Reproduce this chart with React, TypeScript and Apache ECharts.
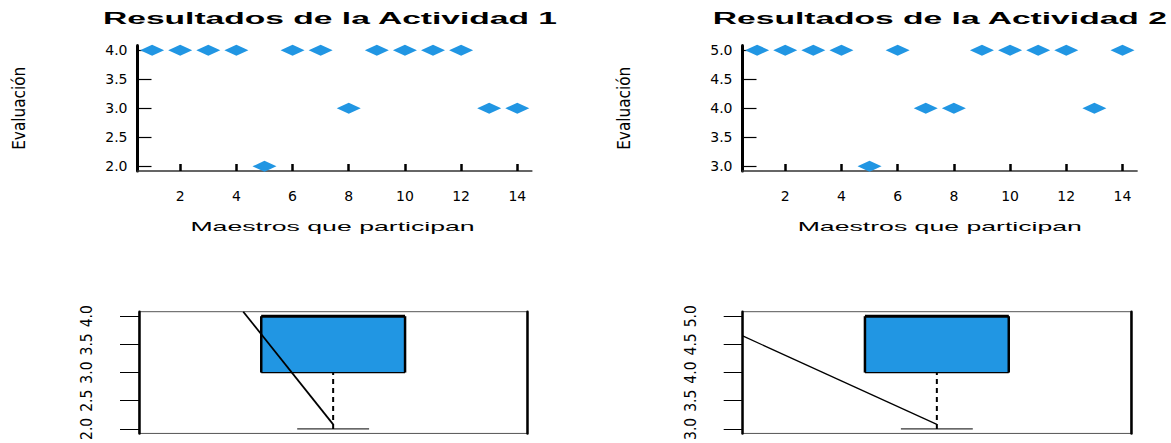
import React, { useEffect, useRef } from "react";
import * as echarts from "echarts";

// ---- data ----
const maestros = [1, 2, 3, 4, 5, 6, 7, 8, 9, 10, 11, 12, 13, 14];
const actividad1 = [4, 4, 4, 4, 2, 4, 4, 3, 4, 4, 4, 4, 3, 3];
const actividad2 = [5, 5, 5, 5, 3, 5, 4, 4, 5, 5, 5, 5, 4, 5];
const xTicks = [2, 4, 6, 8, 10, 12, 14];
const yTicks1 = [2, 2.5, 3, 3.5, 4];
const yTicks2 = [3, 3.5, 4, 4.5, 5];
// min, Q1, mediana, Q3, max
const caja1 = [2, 3, 4, 4, 4];
const caja2 = [3, 4, 5, 5, 5];
const linea1 = [[0.75, 4.08], [1, 2.08]];
const linea2 = [[0.46, 4.65], [1, 3.08]];
const titulos = ["Resultados de la Actividad 1", "Resultados de la Actividad 2"];
const xNombre = "Maestros que participan";
const yNombre = "Evaluación";

const AZUL = "#2196E3";
const NARROW = '"Liberation Sans Narrow", "DejaVu Sans Condensed", "Liberation Sans", Arial, sans-serif';

function topXAxis(gridIndex: number) {
  return {
    type: "value",
    gridIndex,
    min: 0.48,
    max: 14.52,
    splitLine: { show: false },
    axisLine: { show: true, lineStyle: { color: "#333", width: 1.5 } },
    axisTick: {
      show: true,
      inside: true,
      length: 7,
      customValues: xTicks,
      lineStyle: { color: "#000", width: 2.5 },
    },
    axisLabel: {
      customValues: xTicks,
      margin: 18,
      fontFamily: "DejaVu Sans",
      fontSize: 14,
      color: "#000",
    },
  };
}

function topYAxis(gridIndex: number, ticks: number[]) {
  return {
    type: "value",
    gridIndex,
    min: ticks[0] - 0.08,
    max: ticks[ticks.length - 1] + 0.08,
    splitLine: { show: false },
    axisLine: { show: true, lineStyle: { color: "#000", width: 3 } },
    axisTick: {
      show: true,
      inside: true,
      length: 14,
      customValues: ticks,
      lineStyle: { color: "#000", width: 1.2 },
    },
    axisLabel: {
      customValues: ticks,
      formatter: (v: number) => v.toFixed(1),
      margin: 10,
      fontFamily: "DejaVu Sans",
      fontSize: 14,
      color: "#000",
    },
    name: yNombre,
    nameLocation: "middle",
    nameRotate: 90,
    nameGap: 110,
    nameTextStyle: { fontFamily: NARROW, fontSize: 17, color: "#000" },
  };
}

function bottomYAxis(gridIndex: number, ticks: number[]) {
  return {
    type: "value",
    gridIndex,
    position: "left",
    min: ticks[0] - 0.08,
    max: ticks[ticks.length - 1] + 0.08,
    splitLine: { show: false },
    axisLine: { show: true, lineStyle: { color: "#000", width: 2.5 } },
    axisTick: {
      show: true,
      inside: false,
      length: 19,
      customValues: ticks,
      lineStyle: { color: "#000", width: 1 },
    },
    axisLabel: {
      customValues: ticks,
      formatter: (v: number) => v.toFixed(1),
      rotate: 90,
      margin: 44,
      fontFamily: NARROW,
      fontSize: 15.5,
      color: "#000",
    },
  };
}

function rightFrameAxis(gridIndex: number, ticks: number[]) {
  return {
    type: "value",
    gridIndex,
    position: "right",
    min: ticks[0] - 0.08,
    max: ticks[ticks.length - 1] + 0.08,
    splitLine: { show: false },
    axisLine: { show: true, lineStyle: { color: "#000", width: 2.5 } },
    axisTick: { show: false },
    axisLabel: { show: false },
  };
}

function renderBox(params: any, api: any) {
  const x = api.value(0);
  const mn = api.value(1);
  const q1 = api.value(2);
  const md = api.value(3);
  const q3 = api.value(4);
  const mx = api.value(5);
  const hw = 0.2;
  const sw = 0.1;
  const tl = api.coord([x - hw, q3]);
  const br = api.coord([x + hw, q1]);
  const mL = api.coord([x - hw, md]);
  const mR = api.coord([x + hw, md]);
  const wA = api.coord([x, mn]);
  const wB = api.coord([x, q1]);
  const uA = api.coord([x, q3]);
  const uB = api.coord([x, mx]);
  const sL = api.coord([x - sw, mn]);
  const sR = api.coord([x + sw, mn]);
  const tL = api.coord([x - sw, mx]);
  const tR = api.coord([x + sw, mx]);
  const ln = (x1: number, y1: number, x2: number, y2: number, w: number, dash?: number[]) => ({
    type: "line",
    shape: { x1, y1, x2, y2 },
    style: { stroke: "#000", lineWidth: w, lineDash: dash || null, fill: null },
  });
  return {
    type: "group",
    children: [
      {
        type: "rect",
        shape: { x: tl[0], y: tl[1], width: br[0] - tl[0], height: br[1] - tl[1] },
        style: { fill: AZUL, stroke: null },
      },
      ln(wA[0], wA[1], wB[0], wB[1], 2, [5, 4]),
      ln(uA[0], uA[1], uB[0], uB[1], 2, [5, 4]),
      ln(sL[0], sL[1], sR[0], sR[1], 1),
      ln(tL[0], tL[1], tR[0], tR[1], 1),
      ln(tl[0], tl[1], tl[0], br[1], 2.5),
      ln(br[0], tl[1], br[0], br[1], 2.5),
      ln(tl[0], br[1], br[0], br[1], 1.3),
      ln(tl[0], tl[1], br[0], tl[1], 1.3),
      ln(mL[0], mL[1], mR[0], mR[1], 3),
    ],
  };
}

function textEl(text: string, x: number, y: number, scaleX: number, font: string) {
  return {
    type: "text",
    x,
    y,
    scaleX,
    style: {
      text,
      font,
      fill: "#000",
      textAlign: "center",
      textVerticalAlign: "middle",
      align: "center",
      verticalAlign: "middle",
    },
  };
}

export default function App() {
  const ref = useRef<HTMLDivElement>(null);

  useEffect(() => {
    document.body.style.margin = "0";
    if (!ref.current) return;
    const chart = echarts.init(ref.current, null, { renderer: "svg" });

    const option: any = {
      animation: false,
      backgroundColor: "#fff",
      grid: [
        { left: 137.5, top: 45.5, width: 394.4, height: 125.5 },
        { left: 742.5, top: 45.5, width: 394.6, height: 125.5 },
        {
          left: 139, top: 311.7, width: 388.3, height: 125,
          show: true, borderColor: "#555", borderWidth: 1, backgroundColor: "transparent",
        },
        {
          left: 742.7, top: 311.7, width: 388.3, height: 125,
          show: true, borderColor: "#555", borderWidth: 1, backgroundColor: "transparent",
        },
      ],
      xAxis: [
        topXAxis(0),
        topXAxis(1),
        { type: "value", gridIndex: 2, min: 0.46, max: 1.54, show: false },
        { type: "value", gridIndex: 3, min: 0.46, max: 1.54, show: false },
      ],
      yAxis: [
        topYAxis(0, yTicks1),
        topYAxis(1, yTicks2),
        bottomYAxis(2, yTicks1),
        bottomYAxis(3, yTicks2),
        rightFrameAxis(2, yTicks1),
        rightFrameAxis(3, yTicks2),
      ],
      graphic: [
        textEl(titulos[0], 330, 18.8, 2.1, 'bold 16px "Liberation Sans", Arial, sans-serif'),
        textEl(titulos[1], 939.8, 18.8, 2.1, 'bold 16px "Liberation Sans", Arial, sans-serif'),
        textEl(xNombre, 332.5, 226.5, 2.05, '13px "Liberation Sans", Arial, sans-serif'),
        textEl(xNombre, 939.8, 226.5, 2.05, '13px "Liberation Sans", Arial, sans-serif'),
      ],
      series: [
        {
          type: "scatter", xAxisIndex: 0, yAxisIndex: 0,
          data: maestros.map((m, i) => [m, actividad1[i]]),
          symbol: "diamond", symbolSize: [24, 11],
          itemStyle: { color: AZUL, opacity: 1 }, clip: false,
        },
        {
          type: "scatter", xAxisIndex: 1, yAxisIndex: 1,
          data: maestros.map((m, i) => [m, actividad2[i]]),
          symbol: "diamond", symbolSize: [24, 11],
          itemStyle: { color: AZUL, opacity: 1 }, clip: false,
        },
        {
          type: "custom", xAxisIndex: 2, yAxisIndex: 2,
          dimensions: ["x", "min", "q1", "med", "q3", "max"],
          encode: { x: 0, y: [1, 2, 3, 4, 5] },
          data: [[1, ...caja1]],
          renderItem: renderBox,
          clip: false,
        },
        {
          type: "custom", xAxisIndex: 3, yAxisIndex: 3,
          dimensions: ["x", "min", "q1", "med", "q3", "max"],
          encode: { x: 0, y: [1, 2, 3, 4, 5] },
          data: [[1, ...caja2]],
          renderItem: renderBox,
          clip: false,
        },
        {
          type: "line", xAxisIndex: 2, yAxisIndex: 2, data: linea1,
          symbol: "none", clip: true, z: 5,
          lineStyle: { color: "#000", width: 1.8 },
        },
        {
          type: "line", xAxisIndex: 3, yAxisIndex: 3, data: linea2,
          symbol: "none", clip: true, z: 5,
          lineStyle: { color: "#000", width: 1.3 },
        },
      ],
    };

    chart.setOption(option);
    return () => chart.dispose();
  }, []);

  return (
    <div
      ref={ref}
      style={{ position: "absolute", left: 0, top: 0, width: 1171, height: 443 }}
    />
  );
}
